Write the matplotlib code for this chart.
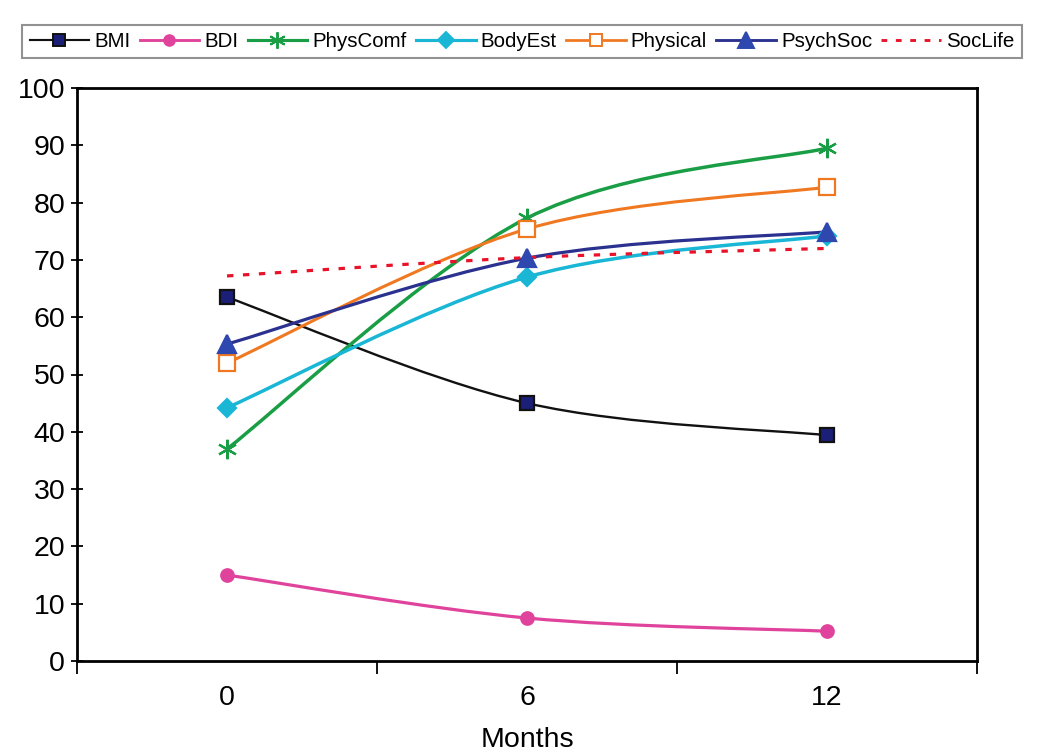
import numpy as np
import matplotlib
matplotlib.use('Agg')
import matplotlib.pyplot as plt
from matplotlib.path import Path
from matplotlib.patches import PathPatch
from matplotlib.lines import Line2D

plt.rcParams['font.family'] = ['Liberation Sans', 'DejaVu Sans']

# === Data ===
months = ['0', '6', '12']
bmi = [63.5, 45.0, 39.4]
bdi = [15.0, 7.5, 5.2]
phys_comf = [37.0, 77.3, 89.5]
body_est = [44.2, 67.0, 74.2]
physical = [52.0, 75.4, 82.7]
psych_soc = [55.3, 70.3, 74.9]
soc_life = [67.2, 70.4, 72.0]

# name, values, line colour, marker, marker face, marker edge, marker size, linestyle, linewidth
series = [
    ('BMI', bmi, '#111111', 's', '#1c1f78', '#111111', 10, '-', 1.7),
    ('BDI', bdi, '#e0439c', 'o', '#e0439c', '#e0439c', 9, '-', 2.3),
    ('PhysComf', phys_comf, '#1a9e45', (6, 2, 0), '#1a9e45', '#1a9e45', 14, '-', 2.5),
    ('BodyEst', body_est, '#19b6d6', 'D', '#19b6d6', '#19b6d6', 9, '-', 2.5),
    ('Physical', physical, '#f07820', 's', 'white', '#f07820', 11, '-', 2.2),
    ('PsychSoc', psych_soc, '#2b318f', '^', '#2e48b0', '#2e48b0', 13, '-', 2.3),
    ('SocLife', soc_life, '#e8132b', None, 'none', 'none', 0, (0, (2, 3)), 2.3),
]


def smooth_path(xs, ys):
    # Excel style smoothed line: cubic Bezier with Catmull-Rom control points
    pts = np.column_stack([xs, ys]).astype(float)
    n = len(pts)
    verts = [pts[0]]
    codes = [Path.MOVETO]
    for i in range(n - 1):
        p0 = pts[max(i - 1, 0)]
        p1 = pts[i]
        p2 = pts[i + 1]
        p3 = pts[min(i + 2, n - 1)]
        c1 = p1 + (p2 - p0) / 6.0
        c2 = p2 - (p3 - p1) / 6.0
        verts += [c1, c2, p2]
        codes += [Path.CURVE4] * 3
    return Path(verts, codes)


fig = plt.figure(figsize=(10.5, 7.55), dpi=100)
ax = fig.add_axes([77 / 1050, 1 - 661 / 755, 900 / 1050, 573 / 755])

x = np.arange(len(months))
handles = []
for name, vals, col, mk, mfc, mec, ms, ls, lw in series:
    patch = PathPatch(smooth_path(x, vals), facecolor='none', edgecolor=col,
                      linewidth=lw, linestyle=ls, capstyle='butt', zorder=2)
    ax.add_patch(patch)
    if mk is not None:
        ax.plot(x, vals, linestyle='none', marker=mk, markersize=ms,
                markerfacecolor=mfc, markeredgecolor=mec, markeredgewidth=1.6, zorder=3)
    handles.append(Line2D([], [], color=col, linewidth=lw * 0.9, linestyle=ls, marker=mk,
                          markersize=ms * 0.85, markerfacecolor=mfc, markeredgecolor=mec,
                          markeredgewidth=1.4, label=name))

ax.set_xlim(-0.5, 2.5)
ax.set_ylim(0, 100)
ax.set_yticks(np.arange(0, 101, 10))
ax.set_xticks(x)
ax.set_xticklabels(months)
ax.set_xticks([-0.5, 0.5, 1.5, 2.5], minor=True)
ax.tick_params(axis='x', which='major', length=0, pad=17, labelsize=20.5)
ax.tick_params(axis='x', which='minor', length=9, width=1.3, direction='out')
ax.tick_params(axis='y', length=9, width=1.3, direction='inout', pad=4, labelsize=20.5)
for sp in ax.spines.values():
    sp.set_linewidth(2.0)
    sp.set_color('black')
ax.set_xlabel('Months', fontsize=20.5, labelpad=12)

leg = fig.legend(handles=handles, loc='center', ncol=7,
                 bbox_to_anchor=(522 / 1050, 1 - 41.5 / 755),
                 fontsize=14.8, frameon=True, fancybox=False, handlelength=2.9,
                 handletextpad=0.25, columnspacing=0.45, borderpad=0.35,
                 borderaxespad=0)
leg.get_frame().set_edgecolor('#777777')
leg.get_frame().set_linewidth(1.5)

fig.savefig('out.png', dpi=100)
